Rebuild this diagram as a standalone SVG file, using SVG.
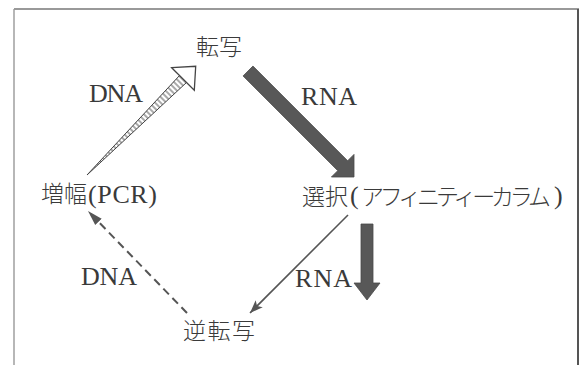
<svg xmlns="http://www.w3.org/2000/svg" width="581" height="365" viewBox="0 0 581 365">
<style>
.jp{font-family:"Noto Sans CJK JP","Noto Sans",sans-serif;font-size:23px;fill:#3a3a3a;font-weight:300}
.lat{font-family:"Liberation Serif","Times New Roman",serif;font-size:26px;fill:#3a3a3a}
.dark{fill:#585858;stroke:#4a4a4a;stroke-width:0.8}
.thin{stroke:#555;stroke-width:1.6;fill:none}
.dash{stroke:#555;stroke-width:2;fill:none;stroke-dasharray:8 5}
</style>
<defs>
<pattern id="hatch" patternUnits="userSpaceOnUse" width="4" height="4" patternTransform="rotate(-45)">
<rect width="4" height="4" fill="#fff"/>
<line x1="1" y1="0" x2="1" y2="4" stroke="#555" stroke-width="1"/>
</pattern>
<marker id="ah" markerUnits="userSpaceOnUse" markerWidth="14" markerHeight="10" refX="13" refY="5" orient="auto">
<path d="M0,0 L13,5 L0,10 L3,5 z" fill="#555"/>
</marker>
<marker id="ahd" markerUnits="userSpaceOnUse" markerWidth="16" markerHeight="10" refX="15" refY="5" orient="auto">
<path d="M0,0.5 L15,5 L0,9.5 z" fill="#555"/>
</marker>
</defs>
<rect width="581" height="365" fill="#fff"/>
<g id="frame">
<line x1="14" y1="9" x2="579" y2="9" stroke="#777" stroke-width="1.6"/>
<line x1="14" y1="9" x2="14" y2="365" stroke="#999" stroke-width="1.4"/>
<line x1="578" y1="9" x2="578" y2="365" stroke="#555" stroke-width="2"/>
</g>
<g id="connectors">
<g id="amplify-to-transcribe">
<polygon points="87,175 186.5,82.5 179.5,75.5" fill="url(#hatch)" stroke="#444" stroke-width="1"/>
<polygon points="171.7,67.7 195.7,66.3 194.3,90.3" fill="#fff" stroke="#444" stroke-width="1.3"/>
</g>
<polygon id="transcribe-to-select" class="dark" points="252.95,66.05 347.65,160.75 354,154.4 354,177 331.4,177 337.75,170.65 243.05,75.95"/>
<polygon id="select-down" class="dark" points="361,224 373,224 373,283 380,283 367,300 354,283 361,283"/>
<line id="select-to-rt" class="thin" x1="348" y1="215" x2="250" y2="313" marker-end="url(#ah)"/>
<line id="rt-to-amplify" class="dash" x1="187" y1="313" x2="88" y2="211" marker-end="url(#ahd)"/>
</g>
<g id="node-transcribe"><text class="jp" x="196" y="55" textLength="46">転写</text></g>
<g id="node-select">
<text class="jp" x="302" y="205" textLength="46">選択</text>
<text class="lat" x="350" y="204" font-size="24">(</text>
<text class="jp" x="361" y="205" font-size="21" textLength="190" lengthAdjust="spacing">アフィニティーカラム</text>
<text class="lat" x="554" y="204" font-size="24">)</text>
</g>
<g id="node-rt"><text class="jp" x="183" y="339" textLength="72">逆転写</text></g>
<g id="node-amplify">
<text class="jp" x="41" y="202" textLength="46">増幅</text>
<text class="lat" x="88" y="203" font-size="21" textLength="69">(PCR)</text>
</g>
<g id="labels">
<text class="lat" x="89" y="102" textLength="54">DNA</text>
<text class="lat" x="301" y="105" textLength="56">RNA</text>
<text class="lat" x="81" y="285" textLength="56">DNA</text>
<text class="lat" x="295" y="287" textLength="57">RNA</text>
</g>
</svg>
